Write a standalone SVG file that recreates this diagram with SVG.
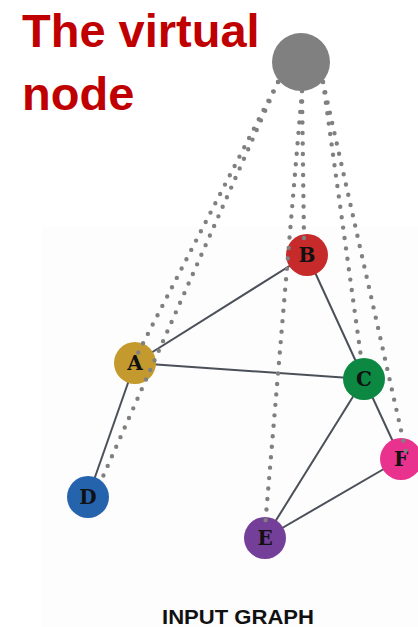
<svg xmlns="http://www.w3.org/2000/svg" width="418" height="627" viewBox="0 0 418 627">
<style>
.edge{stroke:#4b5058;stroke-width:2;fill:none}
.dot{stroke:#808080;stroke-width:4.4;stroke-dasharray:0 10.5;stroke-linecap:round;fill:none}
.lbl{font-family:"DejaVu Serif","Liberation Serif",serif;font-weight:bold;font-size:20px;fill:#111;text-anchor:middle}
.title{font-family:"Liberation Sans",Arial,sans-serif;font-weight:bold;font-size:47px;fill:#c00000}
</style>
<rect width="418" height="627" fill="#ffffff"/>
<rect x="42" y="227" width="376" height="400" fill="#fdfdfe"/>
<text class="title" x="22" y="47">The virtual</text>
<text class="title" x="22" y="110">node</text>
<g id="edges">
<line class="edge" x1="135" y1="363" x2="307" y2="255"/>
<line class="edge" x1="135" y1="363" x2="364" y2="379"/>
<line class="edge" x1="135" y1="363" x2="88" y2="497"/>
<line class="edge" x1="307" y1="255" x2="364" y2="379"/>
<line class="edge" x1="364" y1="379" x2="265" y2="538"/>
<line class="edge" x1="364" y1="379" x2="401" y2="459"/>
<line class="edge" x1="265" y1="538" x2="401" y2="459"/>
</g>
<g id="node-virtual"><circle cx="301" cy="62" r="29" fill="#808080"/></g>
<g id="node-A"><circle cx="135" cy="363" r="21" fill="#c49a2e"/><text class="lbl" x="135" y="370">A</text></g>
<g id="node-B"><circle cx="307" cy="255" r="21" fill="#c62a2a"/><text class="lbl" x="307" y="262">B</text></g>
<g id="node-C"><circle cx="364" cy="379" r="21" fill="#0c8843"/><text class="lbl" x="364" y="386">C</text></g>
<g id="node-D"><circle cx="88" cy="497" r="21" fill="#2563ad"/><text class="lbl" x="88" y="504">D</text></g>
<g id="node-E"><circle cx="265" cy="538" r="21" fill="#743f98"/><text class="lbl" x="265" y="545">E</text></g>
<g id="node-F"><circle cx="401" cy="459" r="21" fill="#e9318e"/><text class="lbl" x="401" y="466">F</text></g>
<g id="virtual-links">
<line class="dot" x1="278" y1="82" x2="138" y2="353"/>
<line class="dot" x1="278" y1="82" x2="101" y2="481"/>
<line class="dot" x1="302" y1="91" x2="304" y2="239"/>
<line class="dot" x1="302" y1="91" x2="265" y2="527"/>
<line class="dot" x1="323" y1="82" x2="361" y2="357"/>
<line class="dot" x1="323" y1="82" x2="407" y2="457"/>
</g>
<text x="238" y="624" font-family="'Liberation Sans',Arial,sans-serif" font-weight="bold" font-size="20" text-anchor="middle" fill="#111" textLength="152" lengthAdjust="spacingAndGlyphs">INPUT GRAPH</text>
</svg>
